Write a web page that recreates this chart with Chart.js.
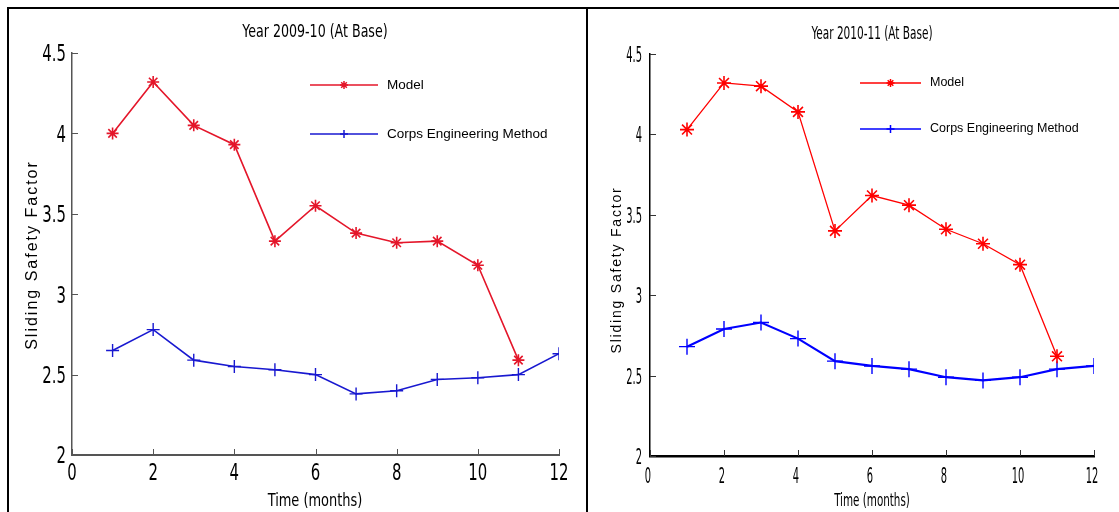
<!DOCTYPE html>
<html>
<head>
<meta charset="utf-8">
<script src="https://cdn.jsdelivr.net/npm/chart.js@4/dist/chart.umd.min.js"></script>
<style>
  html, body { margin: 0; padding: 0; background: #fff; }
  body { width: 1119px; height: 512px; position: relative; overflow: hidden; }
  .panel { position: absolute; top: 9px; height: 503px; }
  #p1 { left: 9px; width: 577px; }
  #p2 { left: 588px; width: 531px; }
  .rule { position: absolute; background: #000; }
</style>
</head>
<body>
<div class="rule" style="left:7px; top:7px; width:1112px; height:2px;"></div>
<div class="rule" style="left:7px; top:7px; width:2px; height:505px;"></div>
<div class="rule" style="left:586px; top:7px; width:2px; height:505px;"></div>
<div class="panel" id="p1"><canvas id="chart1"></canvas></div>
<div class="panel" id="p2"><canvas id="chart2"></canvas></div>
<script>
// values
const months = [1, 2, 3, 4, 5, 6, 7, 8, 9, 10, 11, 12];
const xTicks = [0, 2, 4, 6, 8, 10, 12];
const yTicks = [2, 2.5, 3, 3.5, 4, 4.5];

const model0910 = [4.00, 4.32, 4.05, 3.93, 3.33, 3.55, 3.38, 3.32, 3.33, 3.18, 2.59];
const corps0910 = [2.65, 2.78, 2.59, 2.55, 2.53, 2.50, 2.38, 2.40, 2.47, 2.48, 2.50, 2.63];

const model1011 = [4.03, 4.32, 4.30, 4.14, 3.40, 3.62, 3.56, 3.41, 3.32, 3.19, 2.62];
const corps1011 = [2.68, 2.79, 2.83, 2.73, 2.59, 2.56, 2.54, 2.49, 2.47, 2.49, 2.54, 2.56];

const seriesNames = ['Model', 'Corps Engineering Method'];

const COND = '"DejaVu Sans Condensed", "DejaVu Sans", sans-serif';
const SANS = '"Liberation Sans", Arial, sans-serif';

function toPoints(vals) {
    return vals.map((v, i) => ({ x: months[i], y: v }));
}

// text squeezed sideways, like the narrow MATLAB font
function narrowText(ctx, text, x, y, size, sx, align) {
    ctx.save();
    ctx.translate(x, y);
    ctx.scale(sx, 1);
    ctx.font = size + 'px ' + COND;
    ctx.textAlign = align;
    ctx.textBaseline = 'alphabetic';
    // y is the middle of the digits / capitals
    ctx.fillText(text, 0, size * 0.364);
    ctx.restore();
}

// titles, legend, tick labels and inward tick marks
const decor = {
    id: 'decor',
    afterDraw(chart, args, o) {
        const ctx = chart.ctx;
        const xs = chart.scales.x, ys = chart.scales.y;
        const a = chart.chartArea;
        ctx.save();

        // inward ticks
        ctx.strokeStyle = o.axisColor;
        ctx.lineWidth = 1;
        xTicks.forEach(t => {
            const px = Math.round(xs.getPixelForValue(t)) + 0.5;
            ctx.beginPath(); ctx.moveTo(px, a.bottom); ctx.lineTo(px, a.bottom - 6); ctx.stroke();
        });
        yTicks.forEach(t => {
            const py = Math.round(ys.getPixelForValue(t)) + 0.5;
            ctx.beginPath(); ctx.moveTo(a.left, py); ctx.lineTo(a.left + 6, py); ctx.stroke();
        });

        // tick labels
        ctx.fillStyle = '#000';
        xTicks.forEach(t => {
            narrowText(ctx, String(t), xs.getPixelForValue(t) + o.xLabDx, a.bottom + o.xLabDy,
                o.tickSize, o.tickSx, 'center');
        });
        yTicks.forEach(t => {
            narrowText(ctx, String(t), a.left - o.yLabGap, ys.getPixelForValue(t),
                o.tickSize, o.tickSx, 'right');
        });

        // title and x axis title
        narrowText(ctx, o.title, o.cx, o.titleY, o.titleSize, o.titleSx, 'center');
        narrowText(ctx, 'Time (months)', o.cx, o.xTitleY, o.titleSize, o.xTitleSx, 'center');

        // y axis title, rotated
        ctx.save();
        ctx.translate(o.yTitleX, o.yTitleY);
        ctx.rotate(-Math.PI / 2);
        ctx.font = o.yTitleFont;
        ctx.letterSpacing = o.yTitleSpacing;
        ctx.textAlign = 'center';
        ctx.textBaseline = 'middle';
        ctx.fillText('Sliding Safety Factor', 0, 0);
        ctx.restore();

        // legend
        chart.data.datasets.forEach((ds, i) => {
            const y = o.legendY[i];
            ctx.strokeStyle = ds.borderColor;
            ctx.lineWidth = 1.5;
            ctx.beginPath(); ctx.moveTo(o.legendX0, y); ctx.lineTo(o.legendX1, y); ctx.stroke();
            Chart.helpers.drawPoint(ctx, {
                pointStyle: ds.pointStyle, radius: 4, borderWidth: 1.2, rotation: 0
            }, (o.legendX0 + o.legendX1) / 2, y);
            ctx.fillStyle = '#000';
            ctx.font = o.legendFont;
            ctx.textAlign = 'left';
            ctx.textBaseline = 'middle';
            ctx.fillText(seriesNames[i], o.legendX1 + 9, y);
        });
        ctx.restore();
    }
};

function makeChart(id, model, corps, s) {
    const H = 503;
    return new Chart(document.getElementById(id), {
        type: 'line',
        data: {
            datasets: [
                {
                    label: seriesNames[0], data: toPoints(model),
                    borderColor: s.red, backgroundColor: s.red,
                    borderWidth: s.redW, pointStyle: 'star',
                    pointRadius: s.starR, pointBorderWidth: 1.6, tension: 0
                },
                {
                    label: seriesNames[1], data: toPoints(corps),
                    borderColor: s.blue, backgroundColor: s.blue,
                    borderWidth: s.blueW, pointStyle: 'cross',
                    pointRadius: s.crossR, pointBorderWidth: 1.4, tension: 0
                }
            ]
        },
        options: {
            responsive: true,
            maintainAspectRatio: false,
            animation: false,
            layout: { padding: { left: 0, top: s.top, right: s.W - s.right, bottom: 0 } },
            plugins: {
                legend: { display: false },
                tooltip: { enabled: false },
                decor: s.decor
            },
            scales: {
                x: {
                    type: 'linear', min: 0, max: 12,
                    afterBuildTicks: sc => { sc.ticks = xTicks.map(v => ({ value: v })); },
                    afterFit: sc => { sc.height = H - s.bottom; },
                    grid: { display: false },
                    border: { display: true, color: s.axisColor, width: s.xAxisW },
                    ticks: { display: false }
                },
                y: {
                    min: 2, max: 4.5,
                    afterBuildTicks: sc => { sc.ticks = yTicks.map(v => ({ value: v })); },
                    afterFit: sc => { sc.width = s.left; },
                    grid: { display: false },
                    border: { display: true, color: s.axisColor, width: s.yAxisW },
                    ticks: { display: false }
                }
            }
        },
        plugins: [decor]
    });
}

makeChart('chart1', model0910, corps0910, {
    W: 577, left: 63, right: 550, top: 44, bottom: 446,
    red: 'rgb(228,22,42)', blue: 'rgb(24,24,208)', redW: 1.6, blueW: 1.6,
    starR: 6, crossR: 6.5, axisColor: '#555', xAxisW: 2, yAxisW: 1.5,
    decor: {
        axisColor: '#555',
        tickSize: 23, tickSx: 0.72, xLabDx: 0, xLabDy: 17, yLabGap: 6,
        title: 'Year 2009-10 (At Base)', cx: 306, titleY: 21, titleSize: 18, titleSx: 0.78,
        xTitleY: 490, xTitleSx: 0.8,
        yTitleX: 24, yTitleY: 246, yTitleFont: '16px ' + SANS, yTitleSpacing: '2px',
        legendX0: 301, legendX1: 369, legendY: [76, 125], legendFont: '13.5px ' + SANS
    }
});

makeChart('chart2', model1011, corps1011, {
    W: 531, left: 62, right: 506, top: 45, bottom: 447,
    red: '#ff0000', blue: '#0000ff', redW: 1.3, blueW: 2.2,
    starR: 7, crossR: 8, axisColor: '#000', xAxisW: 2.5, yAxisW: 1.5,
    decor: {
        axisColor: '#333',
        tickSize: 22, tickSx: 0.5, xLabDx: -2, xLabDy: 19, yLabGap: 8,
        title: 'Year 2010-11 (At Base)', cx: 284, titleY: 23, titleSize: 18, titleSx: 0.65,
        xTitleY: 490, xTitleSx: 0.64,
        yTitleX: 29, yTitleY: 261, yTitleFont: '14px ' + SANS, yTitleSpacing: '1.8px',
        legendX0: 272, legendX1: 333, legendY: [74, 120], legendFont: '12.5px ' + SANS
    }
});
</script>
</body>
</html>
